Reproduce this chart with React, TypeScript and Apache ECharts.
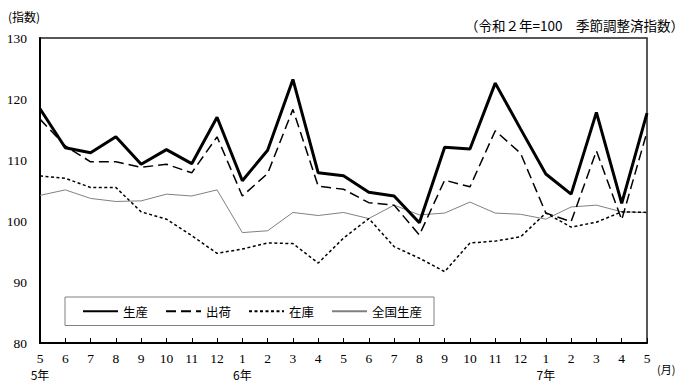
import React, { useEffect, useRef } from "react";
import * as echarts from "echarts";

const months = ["5","6","7","8","9","10","11","12","1","2","3","4","5","6","7","8","9","10","11","12","1","2","3","4","5"];
const yearLabels = ["5年","","","","","","","","6年","","","","","","","","","","","","7年","","","",""];

const seriesNames = ["生産", "出荷", "在庫", "全国生産"];
const production = [118.4,112.0,111.2,113.8,109.3,111.7,109.4,117.0,106.6,111.6,123.2,107.9,107.4,104.7,104.1,99.7,112.1,111.8,122.6,115.1,107.7,104.4,117.8,102.9,117.7];
const shipments = [116.7,112.3,109.7,109.7,108.8,109.3,107.9,113.8,104.1,107.8,118.3,105.7,105.2,103.0,102.6,97.7,106.7,105.6,114.8,111.1,101.3,99.9,111.5,100.2,114.6];
const inventory = [107.4,107.0,105.5,105.5,101.5,100.3,97.6,94.7,95.4,96.4,96.3,93.1,97.2,100.4,95.8,93.9,91.7,96.4,96.7,97.4,101.3,99.0,99.8,101.5,101.4];
const national = [104.2,105.1,103.7,103.2,103.3,104.4,104.1,105.1,98.1,98.4,101.4,100.9,101.4,100.4,102.6,101.0,101.3,103.1,101.3,101.1,100.3,102.3,102.6,101.5,101.4];

const yMin = 80;
const yMax = 130;
const yInterval = 10;

const SERIF = "Liberation Serif, DejaVu Serif, serif";
const CJK = "Noto Sans CJK JP";

export default function App() {
  const ref = useRef<HTMLDivElement>(null);
  useEffect(() => {
    if (!ref.current) return;
    const chart = echarts.init(ref.current, undefined, { renderer: "svg" });
    const categories = months.map((m, i) => m + "|" + i);
    chart.setOption({
      animation: false,
      backgroundColor: "#fff",
      textStyle: { fontFamily: SERIF },
      grid: {
        left: 40,
        right: 42,
        top: 38,
        bottom: 42,
        show: true,
        borderColor: "#222",
        borderWidth: 1.5,
      },
      legend: {
        left: 65,
        top: 297,
        orient: "horizontal",
        data: seriesNames,
        itemWidth: 35,
        itemHeight: 12,
        itemGap: 17,
        padding: [8, 12, 8, 17],
        borderColor: "#808080",
        borderWidth: 1,
        backgroundColor: "#fff",
        itemStyle: { opacity: 0 },
        textStyle: { fontFamily: CJK, fontSize: 12.5, color: "#000" },
      },
      xAxis: {
        type: "category",
        data: categories,
        boundaryGap: false,
        axisLine: { lineStyle: { color: "#000", width: 2 } },
        axisTick: { inside: true, length: 5, interval: 0, lineStyle: { color: "#000", width: 1 } },
        axisLabel: {
          interval: 0,
          margin: 7,
          fontFamily: SERIF,
          formatter: (v: string) => {
            const i = Number(v.split("|")[1]);
            const y = yearLabels[i];
            return y ? `{m|${months[i]}}\n{y|${y}}` : `{m|${months[i]}}`;
          },
          rich: {
            m: { fontFamily: SERIF, fontSize: 13.5, color: "#000", lineHeight: 16 },
            y: { fontFamily: CJK, fontSize: 12, color: "#000", lineHeight: 16 },
          },
        },
        splitLine: { show: false },
      },
      yAxis: {
        type: "value",
        min: yMin,
        max: yMax,
        interval: yInterval,
        axisLine: { show: true, lineStyle: { color: "#000", width: 2 } },
        axisTick: { show: false },
        splitLine: { show: false },
        axisLabel: { fontFamily: SERIF, fontSize: 13.5, color: "#000", margin: 13 },
      },
      graphic: [
        { type: "text", left: 8, top: 10, style: { text: "(指数)", fontFamily: CJK, fontSize: 12, fill: "#000" } },
        { type: "text", right: 5, top: 18, style: { text: "（令和２年=100　季節調整済指数）", fontFamily: CJK, fontSize: 13.5, fill: "#000" } },
        { type: "text", left: 657, top: 363, style: { text: "(月)", fontFamily: CJK, fontSize: 11, fill: "#000" } },
      ],
      series: [
        {
          name: "全国生産", type: "line", data: national, symbol: "none", z: 2,
          lineStyle: { color: "#808080", width: 1 }, itemStyle: { color: "#808080" },
        },
        {
          name: "在庫", type: "line", data: inventory, symbol: "none", z: 3,
          lineStyle: { color: "#000", width: 1.5, type: [3, 2.5] }, itemStyle: { color: "#000" },
        },
        {
          name: "出荷", type: "line", data: shipments, symbol: "none", z: 4,
          lineStyle: { color: "#000", width: 1.5, type: [10, 5] }, itemStyle: { color: "#000" },
        },
        {
          name: "生産", type: "line", data: production, symbol: "none", z: 5,
          lineStyle: { color: "#000", width: 3 }, itemStyle: { color: "#000" },
        },
      ],
    });
    return () => chart.dispose();
  }, []);
  return <div ref={ref} style={{ width: 689, height: 385, position: "absolute", left: 0, top: 0 }} />;
}
